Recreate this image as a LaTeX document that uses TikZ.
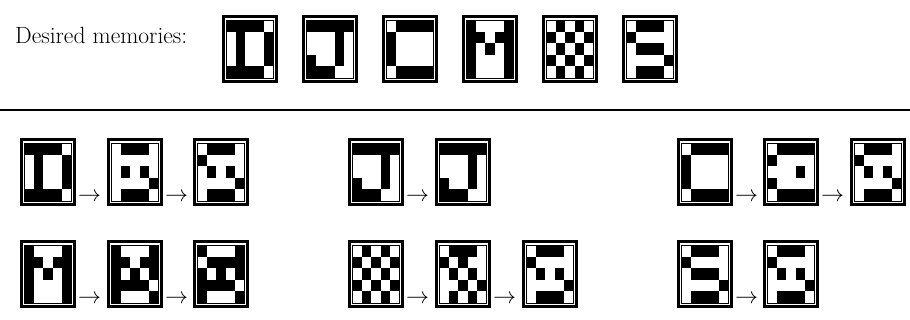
\documentclass[tikz,border=0pt]{standalone}
\usepackage{graphicx}
\begin{document}
\begin{tikzpicture}[x=1pt,y=-1pt]
\useasboundingbox (0,0) rectangle (910,320);
\tikzset{
  glyphframe/.style={draw=black,line width=2.8pt,minimum width=53.2pt,minimum height=65.2pt,inner sep=0pt,outer sep=0pt,anchor=north west},
  cellgrid/.style={draw=black,line width=0.6pt},
  lbl/.style={inner sep=0pt,anchor=base west,font=\fontsize{23.5}{28}\selectfont},
  arr/.style={inner sep=0pt,anchor=base west},
  rulestyle/.style={line width=1.8pt}
}
\newcommand\glyph[4]{%
  \node[glyphframe] (#1) at (#2+1.4,#3+1.4) {};
  \begin{scope}[shift={(#2,#3)}]
    \foreach \row [count=\i] in #4 {
      \foreach \v [count=\j] in \row {
        \ifnum\v=1 \fill[black] (4.5+9.4*\j-9.4,5+11.6*\i-11.6) rectangle ++(9.4,11.6);\fi
      }
    }
    \draw[cellgrid] (4.5,5) rectangle (51.5,63);
  \end{scope}
}
\newcommand\arrowsym{\scalebox{2.3}{$\rightarrow$}}
\def\pD{{1,1,1,1,0},{0,1,0,0,1},{0,1,0,0,1},{0,1,0,0,1},{1,1,1,1,0}}
\def\pJ{{1,1,1,1,1},{0,0,0,1,0},{0,0,0,1,0},{1,0,0,1,0},{1,1,1,0,0}}
\def\pC{{0,1,1,1,1},{1,0,0,0,0},{1,0,0,0,0},{1,0,0,0,0},{0,1,1,1,1}}
\def\pM{{1,0,0,0,1},{1,1,0,1,1},{1,0,1,0,1},{1,0,0,0,1},{1,0,0,0,1}}
\def\pK{{0,1,0,1,0},{1,0,1,0,1},{0,1,0,1,0},{1,0,1,0,1},{0,1,0,1,0}}
\def\pS{{0,1,1,1,0},{1,0,0,0,0},{0,1,1,1,0},{0,0,0,0,1},{0,1,1,1,0}}
\def\pZ{{0,1,1,1,0},{1,0,0,0,0},{0,1,0,1,0},{0,0,0,0,1},{0,1,1,1,0}}
\def\pDb{{0,1,1,1,0},{0,0,0,0,0},{0,1,0,1,0},{0,0,0,0,1},{0,1,1,1,0}}
\def\pCb{{0,1,1,1,1},{1,0,0,0,0},{0,0,0,1,0},{1,0,0,0,0},{0,1,1,1,1}}
\def\pMb{{1,0,0,0,1},{1,1,0,1,1},{1,0,1,0,1},{1,1,1,1,0},{1,0,0,0,1}}
\def\pMc{{1,0,0,0,1},{0,1,1,1,1},{1,0,1,0,1},{1,1,1,1,0},{1,0,0,0,1}}
\def\pKb{{0,1,1,1,0},{1,0,1,0,0},{0,1,0,1,0},{0,0,1,0,1},{0,1,0,1,0}}

\node[lbl] (title) at (15,44) {Desired memories:};
\glyph{m1}{222}{15}{\pD}
\glyph{m2}{302}{15}{\pJ}
\glyph{m3}{382}{15}{\pC}
\glyph{m4}{462}{15}{\pM}
\glyph{m5}{542}{15}{\pK}
\glyph{m6}{622}{15}{\pS}

\coordinate (rl) at (0,110);
\coordinate (rr) at (910,110);
\draw[rulestyle] (rl) -- (rr);

% row 2
\glyph{d1}{20}{138}{\pD}
\glyph{d2}{107}{138}{\pDb}
\glyph{d3}{193}{138}{\pZ}
\glyph{j1}{348}{138}{\pJ}
\glyph{j2}{435}{138}{\pJ}
\glyph{c1}{677}{138}{\pC}
\glyph{c2}{763}{138}{\pCb}
\glyph{c3}{850}{138}{\pZ}
\node[arr] (ad1) at (78,202) {\arrowsym};
\node[arr] (ad2) at (165,202) {\arrowsym};
\node[arr] (aj1) at (406,202) {\arrowsym};
\node[arr] (ac1) at (735,202) {\arrowsym};
\node[arr] (ac2) at (821,202) {\arrowsym};

% row 3
\glyph{n1}{20}{240}{\pM}
\glyph{n2}{107}{240}{\pMb}
\glyph{n3}{193}{240}{\pMc}
\glyph{k1}{348}{240}{\pK}
\glyph{k2}{435}{240}{\pKb}
\glyph{k3}{522}{240}{\pZ}
\glyph{s1}{677}{240}{\pS}
\glyph{s2}{763}{240}{\pZ}
\node[arr] (an1) at (78,304) {\arrowsym};
\node[arr] (an2) at (165,304) {\arrowsym};
\node[arr] (ak1) at (406,304) {\arrowsym};
\node[arr] (ak2) at (493,304) {\arrowsym};
\node[arr] (as1) at (735,304) {\arrowsym};
\end{tikzpicture}
\end{document}
